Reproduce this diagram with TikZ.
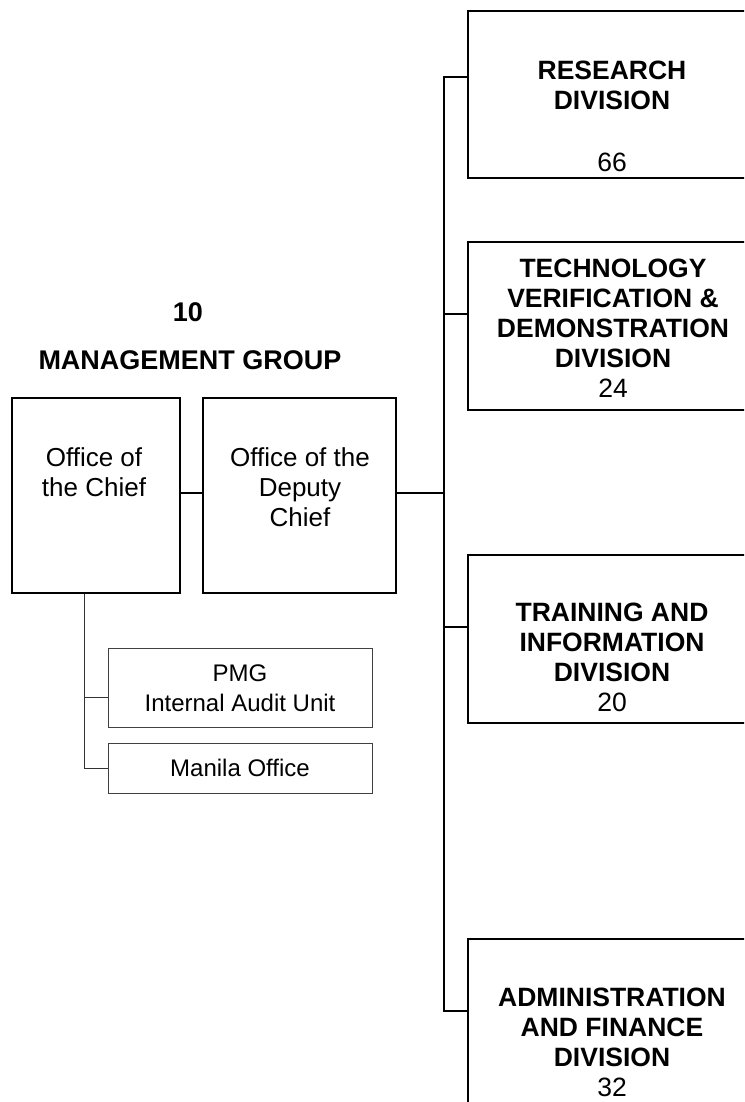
\documentclass[tikz,border=0pt]{standalone}
\usepackage{fontspec}
\setmainfont{Liberation Sans}
\begin{document}
\begin{tikzpicture}[x=1pt,y=-1pt,
  bigbox/.style={draw=black, line width=2pt, rectangle, inner sep=0pt},
  smallbox/.style={draw=black!75, line width=1pt, rectangle, inner sep=0pt},
  link/.style={line width=2pt},
  thinlink/.style={line width=1pt, draw=black!80},
  heading/.style={inner sep=0pt, anchor=north, align=center, font=\fontsize{27}{30}\selectfont\bfseries},
  body/.style={inner sep=0pt, anchor=north, align=center, font=\fontsize{26}{30}\selectfont},
  divtext/.style={inner sep=0pt, anchor=north, align=center, font=\fontsize{26.5}{30}\selectfont},
  smalltext/.style={inner sep=0pt, anchor=north, align=center, font=\fontsize{24}{30}\selectfont}]
\useasboundingbox (0,0) rectangle (744,1102);
\clip (0,0) rectangle (744,1102);

% management group heading
\node[heading] (mgnum) at (188,302.5) {10};
\node[heading] (mgname) at (190,350) {MANAGEMENT GROUP};

% management offices
\node[bigbox, minimum width=168, minimum height=195] (chief) at (96,495.5) {};
\node[bigbox, minimum width=193, minimum height=195] (deputy) at (299.5,495.5) {};
\node[body] (chieftxt) at (94,447.5) {Office of\\the Chief};
\node[body] (deputytxt) at (300,447.5) {Office of the\\Deputy\\Chief};

% units under the chief
\node[smallbox, minimum width=264, minimum height=79] (pmg) at (240,687.5) {};
\node[smallbox, minimum width=264, minimum height=50] (manila) at (240,768) {};
\node[smalltext] (pmgtxt) at (240,664.4) {PMG\\Internal Audit Unit};
\node[smalltext] (manilatxt) at (240,759.4) {Manila Office};

% divisions
\node[bigbox, minimum width=288, minimum height=167] (research) at (612,94.5) {};
\node[bigbox, minimum width=288, minimum height=168] (tech) at (612,326) {};
\node[bigbox, minimum width=288, minimum height=168] (training) at (612,639) {};
\node[bigbox, minimum width=288, minimum height=180] (admin) at (612,1029) {};
\node[divtext] (researchtxt) at (612,60.5) {\textbf{RESEARCH}\\\textbf{DIVISION}\\[32pt]66};
\node[divtext] (techtxt) at (613,258.5) {\textbf{TECHNOLOGY}\\\textbf{VERIFICATION \&}\\\textbf{DEMONSTRATION}\\\textbf{DIVISION}\\24};
\node[divtext] (trainingtxt) at (612,602.5) {\textbf{TRAINING AND}\\\textbf{INFORMATION}\\\textbf{DIVISION}\\20};
\node[divtext] (admintxt) at (612,987.5) {\textbf{ADMINISTRATION}\\\textbf{AND FINANCE}\\\textbf{DIVISION}\\32};

% junction points
\coordinate (jd) at (444,493);
\coordinate (sr) at (444,77);
\coordinate (st) at (444,314);
\coordinate (sn) at (444,627);
\coordinate (sa) at (444,1011);
\coordinate (cp) at (84,697);
\coordinate (cm) at (84,768);

% connectors
\draw[link] (chief.east |- jd) -- (deputy.west |- jd);
\draw[link] (deputy.east |- jd) -- (jd);
\draw[link] (research.west |- sr) -- (sr) -- (sa) -- (admin.west |- sa);
\draw[link] (st) -- (tech.west |- st);
\draw[link] (sn) -- (training.west |- sn);
\draw[thinlink] (chief.south -| cp) -- (cm) -- (manila.west);
\draw[thinlink] (cp) -- (pmg.west |- cp);
\end{tikzpicture}
\end{document}
